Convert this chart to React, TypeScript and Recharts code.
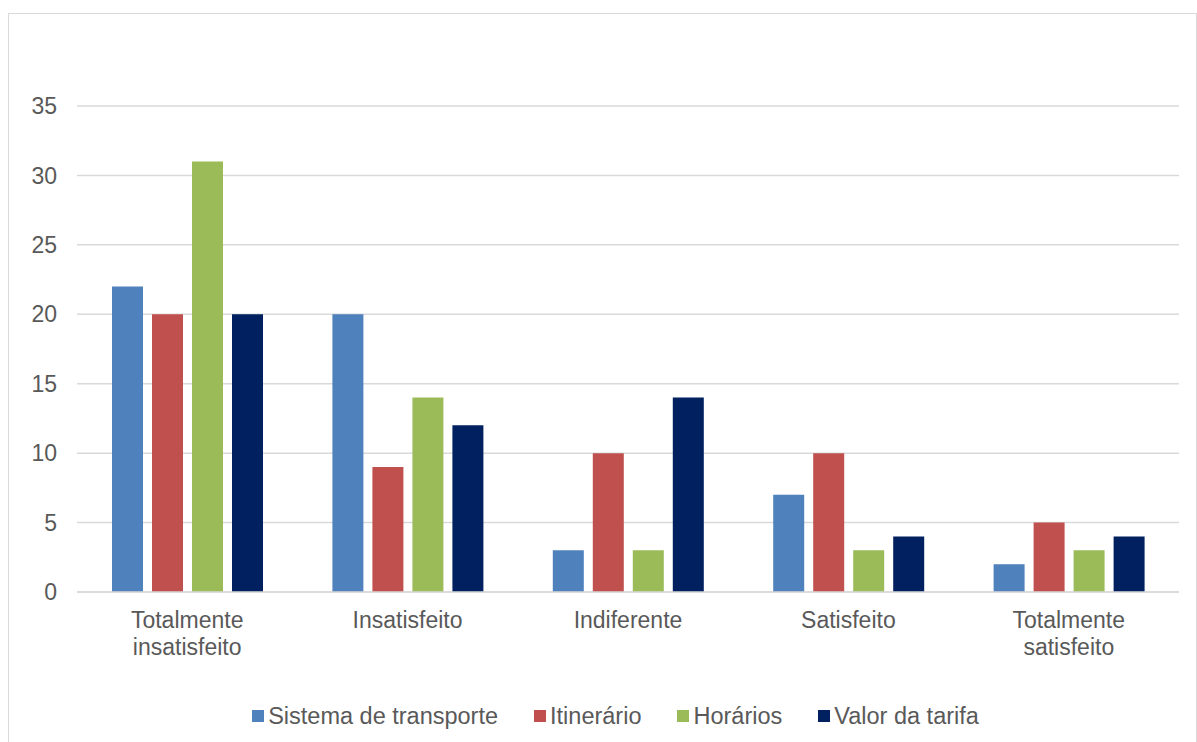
import { BarChart, Bar, XAxis, YAxis, CartesianGrid, Legend } from "recharts";

const categories = [
  "Totalmente insatisfeito",
  "Insatisfeito",
  "Indiferente",
  "Satisfeito",
  "Totalmente satisfeito",
];

const sistemaTransporte = [22, 20, 3, 7, 2];
const itinerario = [20, 9, 10, 10, 5];
const horarios = [31, 14, 3, 3, 3];
const valorTarifa = [20, 12, 14, 4, 4];

const yTicks = [0, 5, 10, 15, 20, 25, 30, 35];

const series = [
  { key: "sistema", name: "Sistema de transporte", color: "#4F81BD", values: sistemaTransporte },
  { key: "itinerario", name: "Itinerário", color: "#C0504D", values: itinerario },
  { key: "horarios", name: "Horários", color: "#9BBB59", values: horarios },
  { key: "tarifa", name: "Valor da tarifa", color: "#002060", values: valorTarifa },
];

const data = categories.map((name, i) => {
  const row: Record<string, string | number> = { name };
  for (const s of series) row[s.key] = s.values[i];
  return row;
});

const FONT = "'Liberation Sans', Arial, sans-serif";
const TEXT = "#595959";
const GRID = "#d9d9d9";

// multi-word categories wrap onto one line per word
function CategoryTick({ x, y, payload }: any) {
  const label: string = payload.value;
  const words = label.split(" ");
  return (
    <text x={x} y={y} textAnchor="middle" fill={TEXT} fontSize={23} fontFamily={FONT}>
      {words.map((w, i) => (
        <tspan key={i} x={x} y={y + 28 + i * 27}>
          {w}
        </tspan>
      ))}
    </text>
  );
}

function LegendContent() {
  return (
    <div
      style={{
        display: "flex",
        justifyContent: "center",
        alignItems: "center",
        paddingLeft: 26,
        height: 28,
        fontFamily: FONT,
        fontSize: 23.5,
        color: TEXT,
      }}
    >
      {series.map((s, i) => (
        <div
          key={s.key}
          style={{
            display: "flex",
            alignItems: "center",
            marginRight: i < series.length - 1 ? 36 : 0,
          }}
        >
          <span style={{ width: 12, height: 12, background: s.color, marginRight: 4, display: "inline-block" }} />
          <span>{s.name}</span>
        </div>
      ))}
    </div>
  );
}

export default function App() {
  return (
    <div
      style={{
        position: "fixed",
        left: 8,
        top: 13,
        width: 1187,
        height: 740,
        border: `1px solid ${GRID}`,
        background: "#fff",
      }}
    >
      <BarChart
        width={1187}
        height={728}
        data={data}
        margin={{ top: 92, right: 17, bottom: 0, left: 0 }}
        barSize={31}
        barGap={9}
      >
        <CartesianGrid vertical={false} stroke={GRID} strokeWidth={1.5} />
        <XAxis
          dataKey="name"
          axisLine={{ stroke: GRID, strokeWidth: 1.5 }}
          tickLine={false}
          interval={0}
          height={122}
          tick={<CategoryTick />}
        />
        <YAxis
          domain={[0, 35]}
          ticks={yTicks}
          width={68}
          axisLine={false}
          tickLine={false}
          tickSize={0}
          tickMargin={20}
          tick={{ fill: TEXT, fontSize: 23, fontFamily: FONT }}
        />
        <Legend
          content={<LegendContent />}
          wrapperStyle={{ top: 688, left: 0, width: 1187 }}
        />
        {series.map((s) => (
          <Bar key={s.key} dataKey={s.key} name={s.name} fill={s.color} isAnimationActive={false} />
        ))}
      </BarChart>
    </div>
  );
}
